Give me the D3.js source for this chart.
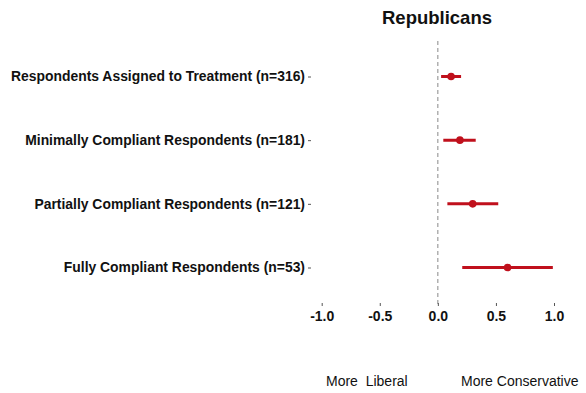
<!DOCTYPE html>
<html>
<head>
<meta charset="utf-8">
<script src="https://cdn.jsdelivr.net/npm/d3@7"></script>
<style>
  body { margin: 0; background: #fff; }
  text { font-family: "Liberation Sans", Arial, sans-serif; }
</style>
</head>
<body>
<div id="chart"></div>
<script>
// group labels, top to bottom
var groups = [
  'Respondents Assigned to Treatment (n=316)',
  'Minimally Compliant Respondents (n=181)',
  'Partially Compliant Respondents (n=121)',
  'Fully Compliant Respondents (n=53)'
]
// point estimates and interval bounds
var estimates = [0.114, 0.19, 0.30, 0.60]
var lower = [0.028, 0.047, 0.082, 0.21]
var upper = [0.20, 0.326, 0.52, 0.99]
var xTicks = [-1.0, -0.5, 0.0, 0.5, 1.0]

var svgWidth = 586
var svgHeight = 393

var svg = d3.select('#chart')
  .append('svg')
  .attr('width', svgWidth)
  .attr('height', svgHeight)

var red = '#c0101c'

// scales
var x = d3.scaleLinear()
  .domain([-1, 1])
  .range([321.7, 554])

var y = d3.scalePoint()
  .domain(groups)
  .range([76.5, 267.5])

// title
svg.append('text')
  .attr('x', 437)
  .attr('y', 24)
  .attr('text-anchor', 'middle')
  .style('font-size', '18.5px')
  .style('font-weight', 'bold')
  .style('fill', '#111')
  .text('Republicans')

// zero reference line
svg.append('line')
  .attr('x1', x(0))
  .attr('x2', x(0))
  .attr('y1', 41)
  .attr('y2', 305)
  .attr('stroke', '#888')
  .attr('stroke-width', 1)
  .attr('stroke-dasharray', '4,3')

// y axis: labels with small tick marks
var yAxis = d3.axisLeft(y)
  .tickSize(3)
  .tickPadding(3)

var yG = svg.append('g')
  .attr('transform', 'translate(311, 0)')
  .call(yAxis)
yG.select('.domain').remove()
yG.selectAll('.tick line').attr('stroke', '#555')
yG.selectAll('.tick text')
  .style('font-family', '"Liberation Sans", Arial, sans-serif')
  .style('font-size', '13.9px')
  .style('font-weight', 'bold')
  .style('fill', '#111')

// x axis, plain hyphen for negatives like the original
var fmt = d3.format('.1f')
var xAxis = d3.axisBottom(x)
  .tickValues(xTicks)
  .tickFormat(d => fmt(d).replace('\u2212', '-'))
  .tickSize(3)
  .tickPadding(5)

var xG = svg.append('g')
  .attr('transform', 'translate(0, 303)')
  .call(xAxis)
xG.select('.domain').remove()
xG.selectAll('.tick line').attr('stroke', '#555')
xG.selectAll('.tick text')
  .style('font-family', '"Liberation Sans", Arial, sans-serif')
  .style('font-size', '14px')
  .style('font-weight', 'bold')
  .style('fill', '#111')

// intervals
svg.selectAll('.ci')
  .data(groups)
  .enter()
  .append('line')
  .attr('class', 'ci')
  .attr('x1', (d, i) => x(lower[i]))
  .attr('x2', (d, i) => x(upper[i]))
  .attr('y1', d => y(d))
  .attr('y2', d => y(d))
  .attr('stroke', red)
  .attr('stroke-width', 3)

// points
svg.selectAll('.est')
  .data(groups)
  .enter()
  .append('circle')
  .attr('class', 'est')
  .attr('cx', (d, i) => x(estimates[i]))
  .attr('cy', d => y(d))
  .attr('r', 3.8)
  .attr('fill', red)

// direction captions
svg.append('text')
  .attr('x', 326)
  .attr('y', 386)
  .style('font-size', '14px')
  .style('fill', '#111')
  .style('white-space', 'pre')
  .text('More  Liberal')

svg.append('text')
  .attr('x', 461)
  .attr('y', 386)
  .style('font-size', '14px')
  .style('fill', '#111')
  .text('More Conservative')
</script>
</body>
</html>
